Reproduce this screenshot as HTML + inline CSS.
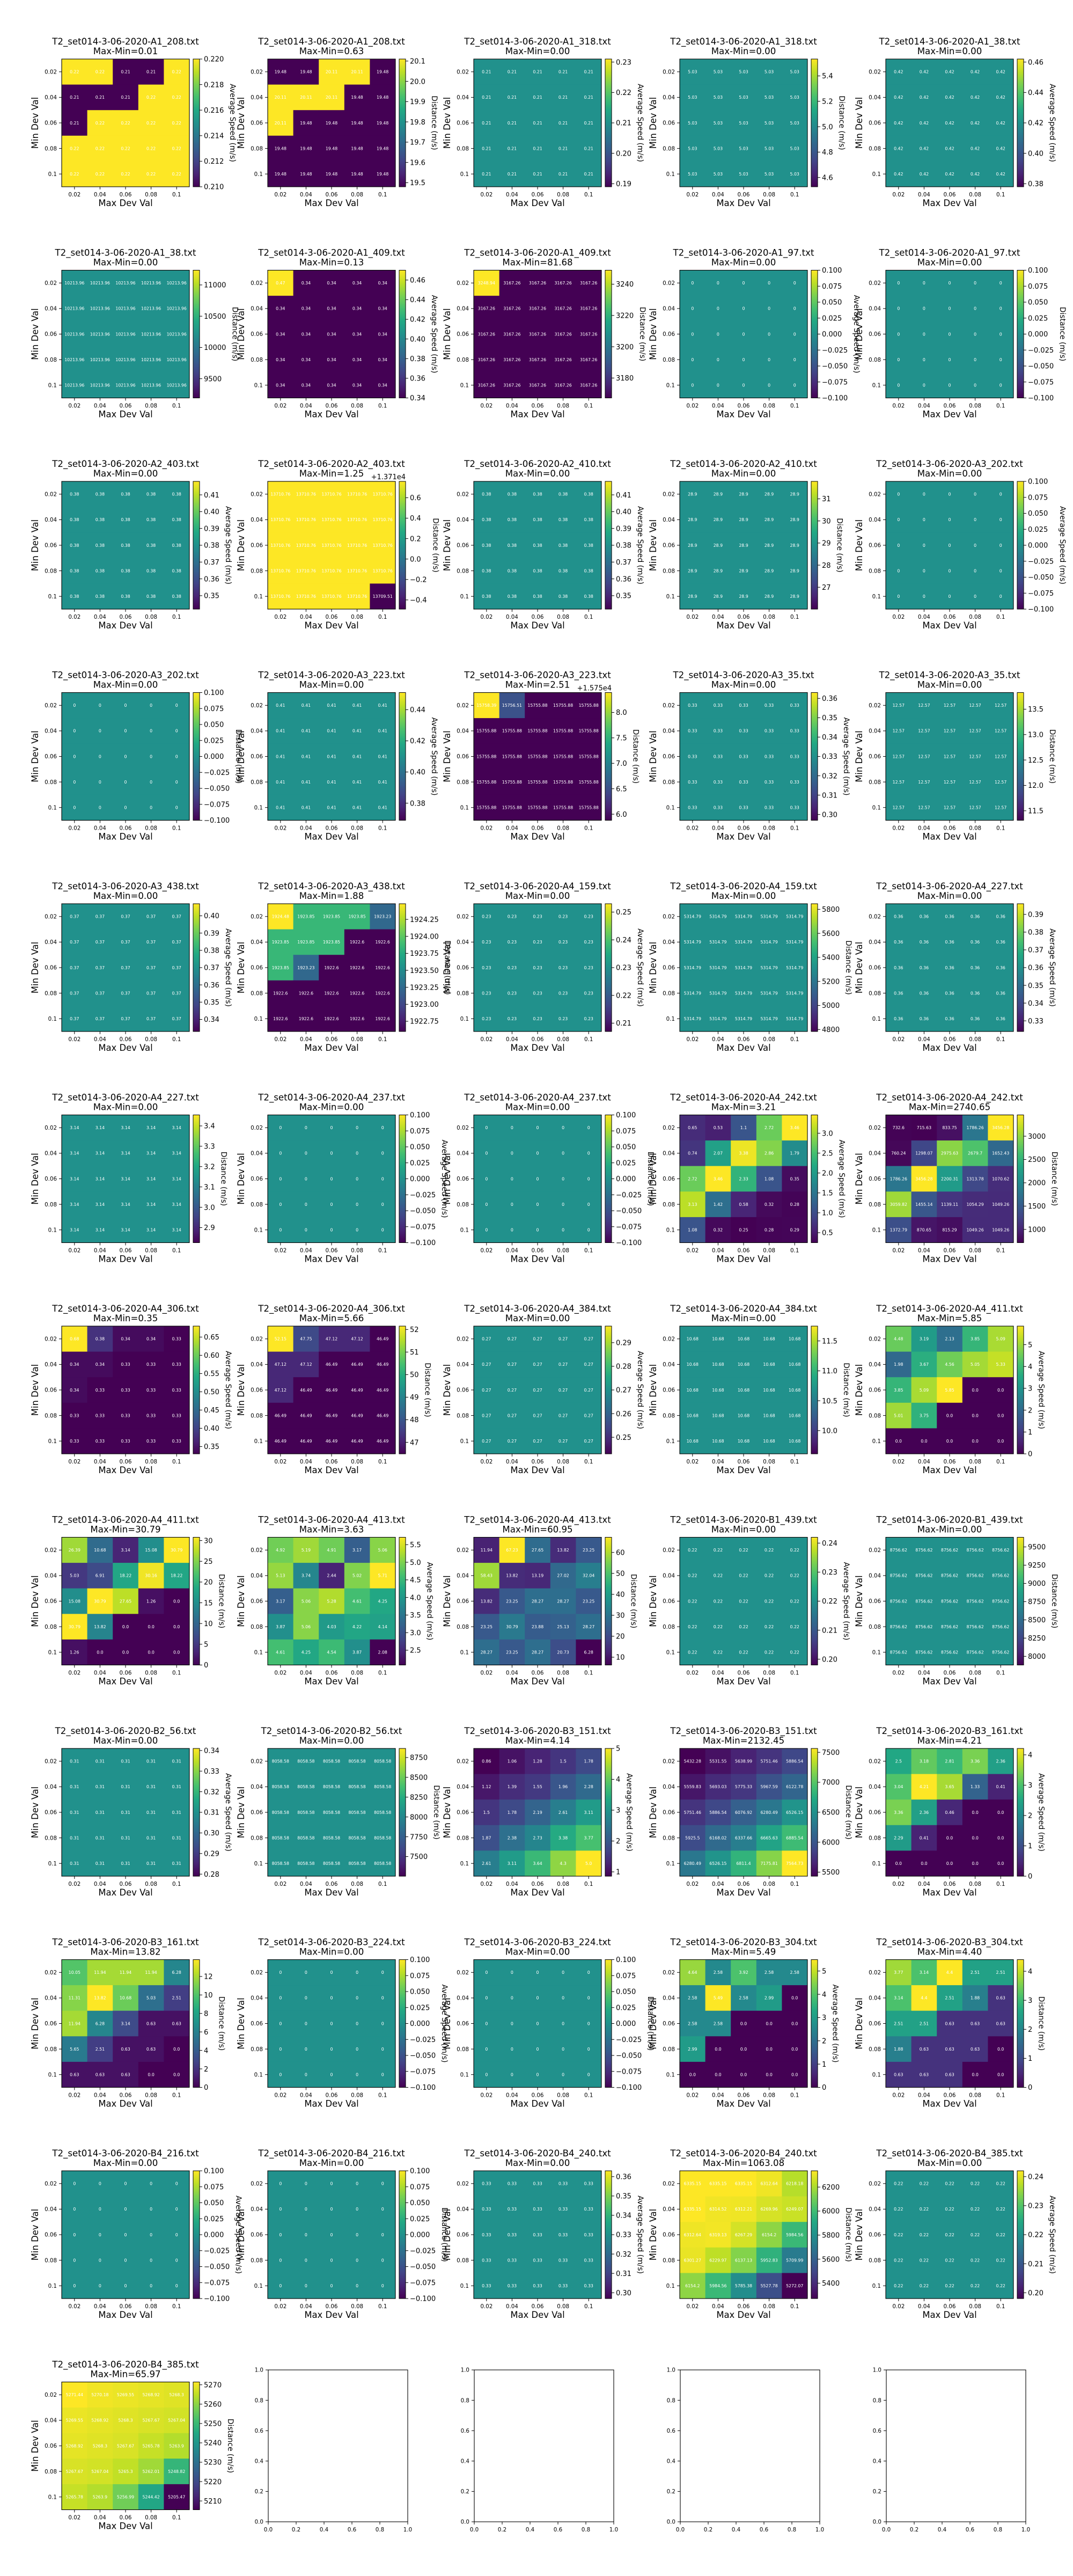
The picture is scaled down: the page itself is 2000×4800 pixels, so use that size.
<!DOCTYPE html>
<html><head><meta charset="utf-8"><title>Heatmap grid</title>
<style>
html,body{margin:0;padding:0;background:#fff;}
svg{display:block;font-family:"DejaVu Sans","Liberation Sans",sans-serif;}
</style></head>
<body>
<svg id="chart" xmlns="http://www.w3.org/2000/svg" width="2000" height="4800" viewBox="0 0 2000 4800">
<defs>
<linearGradient id="vir" x1="0" y1="1" x2="0" y2="0">
<stop offset="0" stop-color="#440154"/><stop offset="0.1" stop-color="#482475"/><stop offset="0.2" stop-color="#414487"/><stop offset="0.3" stop-color="#355f8d"/><stop offset="0.4" stop-color="#2a788e"/><stop offset="0.5" stop-color="#21918c"/><stop offset="0.6" stop-color="#22a884"/><stop offset="0.7" stop-color="#44bf70"/><stop offset="0.8" stop-color="#7ad151"/><stop offset="0.9" stop-color="#bddf26"/><stop offset="1" stop-color="#fde725"/>
</linearGradient>
</defs>
</svg>
<script>
const xCategories = ["0.02","0.04","0.06","0.08","0.1"];
const yCategories = ["0.02","0.04","0.06","0.08","0.1"];
const fileIds = ["A1_208","A1_208","A1_318","A1_318","A1_38","A1_38","A1_409","A1_409","A1_97","A1_97","A2_403","A2_403","A2_410","A2_410","A3_202","A3_202","A3_223","A3_223","A3_35","A3_35","A3_438","A3_438","A4_159","A4_159","A4_227","A4_227","A4_237","A4_237","A4_242","A4_242","A4_306","A4_306","A4_384","A4_384","A4_411","A4_411","A4_413","A4_413","B1_439","B1_439","B2_56","B2_56","B3_151","B3_151","B3_161","B3_161","B3_224","B3_224","B3_304","B3_304","B4_216","B4_216","B4_240","B4_240","B4_385","B4_385"];
const titles = fileIds.map(id => "T2_set014-3-06-2020-" + id + ".txt");
const maxMin = ["0.01","0.63","0.00","0.00","0.00","0.00","0.13","81.68","0.00","0.00","0.00","1.25","0.00","0.00","0.00","0.00","0.00","2.51","0.00","0.00","0.00","1.88","0.00","0.00","0.00","0.00","0.00","0.00","3.21","2740.65","0.35","5.66","0.00","0.00","5.85","30.79","3.63","60.95","0.00","0.00","0.00","0.00","4.14","2132.45","4.21","13.82","0.00","0.00","5.49","4.40","0.00","0.00","0.00","1063.08","0.00","65.97"];
const cbarLabels = ["Average Speed (m/s)","Distance (m/s)"];
const ZT = ["−0.100","−0.075","−0.050","−0.025","0.000","0.025","0.050","0.075","0.100"];
const cbarTicks = [
["0.210","0.212","0.214","0.216","0.218","0.220"],["19.5","19.6","19.7","19.8","19.9","20.0","20.1"],
["0.19","0.20","0.21","0.22","0.23"],["4.6","4.8","5.0","5.2","5.4"],
["0.38","0.40","0.42","0.44","0.46"],["9500","10000","10500","11000"],
["0.34","0.36","0.38","0.40","0.42","0.44","0.46"],["3180","3200","3220","3240"],
ZT,ZT,
["0.35","0.36","0.37","0.38","0.39","0.40","0.41"],["−0.4","−0.2","0.0","0.2","0.4","0.6"],
["0.35","0.36","0.37","0.38","0.39","0.40","0.41"],["27","28","29","30","31"],
ZT,ZT,
["0.38","0.40","0.42","0.44"],["6.0","6.5","7.0","7.5","8.0"],
["0.30","0.31","0.32","0.33","0.34","0.35","0.36"],["11.5","12.0","12.5","13.0","13.5"],
["0.34","0.35","0.36","0.37","0.38","0.39","0.40"],["1922.75","1923.00","1923.25","1923.50","1923.75","1924.00","1924.25"],
["0.21","0.22","0.23","0.24","0.25"],["4800","5000","5200","5400","5600","5800"],
["0.33","0.34","0.35","0.36","0.37","0.38","0.39"],["2.9","3.0","3.1","3.2","3.3","3.4"],
ZT,ZT,
["0.5","1.0","1.5","2.0","2.5","3.0"],["1000","1500","2000","2500","3000"],
["0.35","0.40","0.45","0.50","0.55","0.60","0.65"],["47","48","49","50","51","52"],
["0.25","0.26","0.27","0.28","0.29"],["10.0","10.5","11.0","11.5"],
["0","1","2","3","4","5"],["0","5","10","15","20","25","30"],
["2.5","3.0","3.5","4.0","4.5","5.0","5.5"],["10","20","30","40","50","60"],
["0.20","0.21","0.22","0.23","0.24"],["8000","8250","8500","8750","9000","9250","9500"],
["0.28","0.29","0.30","0.31","0.32","0.33","0.34"],["7500","7750","8000","8250","8500","8750"],
["1","2","3","4","5"],["5500","6000","6500","7000","7500"],
["0","1","2","3","4"],["0","2","4","6","8","10","12"],
ZT,ZT,
["0","1","2","3","4","5"],["0","1","2","3","4"],
ZT,ZT,
["0.30","0.31","0.32","0.33","0.34","0.35","0.36"],["5400","5600","5800","6000","6200"],
["0.20","0.21","0.22","0.23","0.24"],["5210","5220","5230","5240","5250","5260","5270"]
];
const cbarOffsets = {11:[13710,"+1.371e4"],17:[15750,"+1.575e4"]};
const values = [
[[0.22,0.22,0.21,0.21,0.22],[0.21,0.21,0.21,0.22,0.22],[0.21,0.22,0.22,0.22,0.22],[0.22,0.22,0.22,0.22,0.22],[0.22,0.22,0.22,0.22,0.22]],
[[19.48,19.48,20.11,20.11,19.48],[20.11,20.11,20.11,19.48,19.48],[20.11,19.48,19.48,19.48,19.48],[19.48,19.48,19.48,19.48,19.48],[19.48,19.48,19.48,19.48,19.48]],
[[0.21,0.21,0.21,0.21,0.21],[0.21,0.21,0.21,0.21,0.21],[0.21,0.21,0.21,0.21,0.21],[0.21,0.21,0.21,0.21,0.21],[0.21,0.21,0.21,0.21,0.21]],
[[5.03,5.03,5.03,5.03,5.03],[5.03,5.03,5.03,5.03,5.03],[5.03,5.03,5.03,5.03,5.03],[5.03,5.03,5.03,5.03,5.03],[5.03,5.03,5.03,5.03,5.03]],
[[0.42,0.42,0.42,0.42,0.42],[0.42,0.42,0.42,0.42,0.42],[0.42,0.42,0.42,0.42,0.42],[0.42,0.42,0.42,0.42,0.42],[0.42,0.42,0.42,0.42,0.42]],
[[10213.96,10213.96,10213.96,10213.96,10213.96],[10213.96,10213.96,10213.96,10213.96,10213.96],[10213.96,10213.96,10213.96,10213.96,10213.96],[10213.96,10213.96,10213.96,10213.96,10213.96],[10213.96,10213.96,10213.96,10213.96,10213.96]],
[[0.47,0.34,0.34,0.34,0.34],[0.34,0.34,0.34,0.34,0.34],[0.34,0.34,0.34,0.34,0.34],[0.34,0.34,0.34,0.34,0.34],[0.34,0.34,0.34,0.34,0.34]],
[[3248.94,3167.26,3167.26,3167.26,3167.26],[3167.26,3167.26,3167.26,3167.26,3167.26],[3167.26,3167.26,3167.26,3167.26,3167.26],[3167.26,3167.26,3167.26,3167.26,3167.26],[3167.26,3167.26,3167.26,3167.26,3167.26]],
[[0,0,0,0,0],[0,0,0,0,0],[0,0,0,0,0],[0,0,0,0,0],[0,0,0,0,0]],
[[0,0,0,0,0],[0,0,0,0,0],[0,0,0,0,0],[0,0,0,0,0],[0,0,0,0,0]],
[[0.38,0.38,0.38,0.38,0.38],[0.38,0.38,0.38,0.38,0.38],[0.38,0.38,0.38,0.38,0.38],[0.38,0.38,0.38,0.38,0.38],[0.38,0.38,0.38,0.38,0.38]],
[[13710.76,13710.76,13710.76,13710.76,13710.76],[13710.76,13710.76,13710.76,13710.76,13710.76],[13710.76,13710.76,13710.76,13710.76,13710.76],[13710.76,13710.76,13710.76,13710.76,13710.76],[13710.76,13710.76,13710.76,13710.76,13709.51]],
[[0.38,0.38,0.38,0.38,0.38],[0.38,0.38,0.38,0.38,0.38],[0.38,0.38,0.38,0.38,0.38],[0.38,0.38,0.38,0.38,0.38],[0.38,0.38,0.38,0.38,0.38]],
[[28.9,28.9,28.9,28.9,28.9],[28.9,28.9,28.9,28.9,28.9],[28.9,28.9,28.9,28.9,28.9],[28.9,28.9,28.9,28.9,28.9],[28.9,28.9,28.9,28.9,28.9]],
[[0,0,0,0,0],[0,0,0,0,0],[0,0,0,0,0],[0,0,0,0,0],[0,0,0,0,0]],
[[0,0,0,0,0],[0,0,0,0,0],[0,0,0,0,0],[0,0,0,0,0],[0,0,0,0,0]],
[[0.41,0.41,0.41,0.41,0.41],[0.41,0.41,0.41,0.41,0.41],[0.41,0.41,0.41,0.41,0.41],[0.41,0.41,0.41,0.41,0.41],[0.41,0.41,0.41,0.41,0.41]],
[[15758.39,15756.51,15755.88,15755.88,15755.88],[15755.88,15755.88,15755.88,15755.88,15755.88],[15755.88,15755.88,15755.88,15755.88,15755.88],[15755.88,15755.88,15755.88,15755.88,15755.88],[15755.88,15755.88,15755.88,15755.88,15755.88]],
[[0.33,0.33,0.33,0.33,0.33],[0.33,0.33,0.33,0.33,0.33],[0.33,0.33,0.33,0.33,0.33],[0.33,0.33,0.33,0.33,0.33],[0.33,0.33,0.33,0.33,0.33]],
[[12.57,12.57,12.57,12.57,12.57],[12.57,12.57,12.57,12.57,12.57],[12.57,12.57,12.57,12.57,12.57],[12.57,12.57,12.57,12.57,12.57],[12.57,12.57,12.57,12.57,12.57]],
[[0.37,0.37,0.37,0.37,0.37],[0.37,0.37,0.37,0.37,0.37],[0.37,0.37,0.37,0.37,0.37],[0.37,0.37,0.37,0.37,0.37],[0.37,0.37,0.37,0.37,0.37]],
[[1924.48,1923.85,1923.85,1923.85,1923.23],[1923.85,1923.85,1923.85,1922.6,1922.6],[1923.85,1923.23,1922.6,1922.6,1922.6],[1922.6,1922.6,1922.6,1922.6,1922.6],[1922.6,1922.6,1922.6,1922.6,1922.6]],
[[0.23,0.23,0.23,0.23,0.23],[0.23,0.23,0.23,0.23,0.23],[0.23,0.23,0.23,0.23,0.23],[0.23,0.23,0.23,0.23,0.23],[0.23,0.23,0.23,0.23,0.23]],
[[5314.79,5314.79,5314.79,5314.79,5314.79],[5314.79,5314.79,5314.79,5314.79,5314.79],[5314.79,5314.79,5314.79,5314.79,5314.79],[5314.79,5314.79,5314.79,5314.79,5314.79],[5314.79,5314.79,5314.79,5314.79,5314.79]],
[[0.36,0.36,0.36,0.36,0.36],[0.36,0.36,0.36,0.36,0.36],[0.36,0.36,0.36,0.36,0.36],[0.36,0.36,0.36,0.36,0.36],[0.36,0.36,0.36,0.36,0.36]],
[[3.14,3.14,3.14,3.14,3.14],[3.14,3.14,3.14,3.14,3.14],[3.14,3.14,3.14,3.14,3.14],[3.14,3.14,3.14,3.14,3.14],[3.14,3.14,3.14,3.14,3.14]],
[[0,0,0,0,0],[0,0,0,0,0],[0,0,0,0,0],[0,0,0,0,0],[0,0,0,0,0]],
[[0,0,0,0,0],[0,0,0,0,0],[0,0,0,0,0],[0,0,0,0,0],[0,0,0,0,0]],
[[0.65,0.53,1.1,2.72,3.46],[0.74,2.07,3.38,2.86,1.79],[2.72,3.46,2.33,1.08,0.35],[3.13,1.42,0.58,0.32,0.28],[1.08,0.32,0.25,0.28,0.29]],
[[732.6,715.63,833.75,1786.26,3456.28],[760.24,1298.07,2975.63,2679.7,1652.43],[1786.26,3456.28,2200.31,1313.78,1070.62],[3059.82,1455.14,1139.11,1054.29,1049.26],[1372.79,870.65,815.29,1049.26,1049.26]],
[[0.68,0.38,0.34,0.34,0.33],[0.34,0.34,0.33,0.33,0.33],[0.34,0.33,0.33,0.33,0.33],[0.33,0.33,0.33,0.33,0.33],[0.33,0.33,0.33,0.33,0.33]],
[[52.15,47.75,47.12,47.12,46.49],[47.12,47.12,46.49,46.49,46.49],[47.12,46.49,46.49,46.49,46.49],[46.49,46.49,46.49,46.49,46.49],[46.49,46.49,46.49,46.49,46.49]],
[[0.27,0.27,0.27,0.27,0.27],[0.27,0.27,0.27,0.27,0.27],[0.27,0.27,0.27,0.27,0.27],[0.27,0.27,0.27,0.27,0.27],[0.27,0.27,0.27,0.27,0.27]],
[[10.68,10.68,10.68,10.68,10.68],[10.68,10.68,10.68,10.68,10.68],[10.68,10.68,10.68,10.68,10.68],[10.68,10.68,10.68,10.68,10.68],[10.68,10.68,10.68,10.68,10.68]],
[[4.48,3.19,2.13,3.85,5.09],[1.98,3.67,4.56,5.05,5.33],[3.85,5.09,5.85,0,0],[5.01,3.75,0,0,0],[0,0,0,0,0]],
[[26.39,10.68,3.14,15.08,30.79],[5.03,6.91,18.22,30.16,18.22],[15.08,30.79,27.65,1.26,0],[30.79,13.82,0,0,0],[1.26,0,0,0,0]],
[[4.92,5.19,4.91,3.17,5.06],[5.13,3.74,2.44,5.02,5.71],[3.17,5.06,5.28,4.61,4.25],[3.87,5.06,4.03,4.22,4.14],[4.61,4.25,4.54,3.87,2.08]],
[[11.94,67.23,27.65,13.82,23.25],[58.43,13.82,13.19,27.02,32.04],[13.82,23.25,28.27,28.27,23.25],[23.25,30.79,23.88,25.13,28.27],[28.27,23.25,28.27,20.73,6.28]],
[[0.22,0.22,0.22,0.22,0.22],[0.22,0.22,0.22,0.22,0.22],[0.22,0.22,0.22,0.22,0.22],[0.22,0.22,0.22,0.22,0.22],[0.22,0.22,0.22,0.22,0.22]],
[[8756.62,8756.62,8756.62,8756.62,8756.62],[8756.62,8756.62,8756.62,8756.62,8756.62],[8756.62,8756.62,8756.62,8756.62,8756.62],[8756.62,8756.62,8756.62,8756.62,8756.62],[8756.62,8756.62,8756.62,8756.62,8756.62]],
[[0.31,0.31,0.31,0.31,0.31],[0.31,0.31,0.31,0.31,0.31],[0.31,0.31,0.31,0.31,0.31],[0.31,0.31,0.31,0.31,0.31],[0.31,0.31,0.31,0.31,0.31]],
[[8058.58,8058.58,8058.58,8058.58,8058.58],[8058.58,8058.58,8058.58,8058.58,8058.58],[8058.58,8058.58,8058.58,8058.58,8058.58],[8058.58,8058.58,8058.58,8058.58,8058.58],[8058.58,8058.58,8058.58,8058.58,8058.58]],
[[0.86,1.06,1.28,1.5,1.78],[1.12,1.39,1.55,1.96,2.28],[1.5,1.78,2.19,2.61,3.11],[1.87,2.38,2.73,3.38,3.77],[2.61,3.11,3.64,4.3,5.0]],
[[5432.28,5531.55,5638.99,5751.46,5886.54],[5559.83,5693.03,5775.33,5967.59,6122.78],[5751.46,5886.54,6076.92,6280.49,6526.15],[5925.5,6168.02,6337.66,6665.63,6885.54],[6280.49,6526.15,6811.4,7175.81,7564.73]],
[[2.5,3.18,2.81,3.36,2.36],[3.04,4.21,3.65,1.33,0.41],[3.36,2.36,0.46,0,0],[2.29,0.41,0,0,0],[0,0,0,0,0]],
[[10.05,11.94,11.94,11.94,6.28],[11.31,13.82,10.68,5.03,2.51],[11.94,6.28,3.14,0.63,0.63],[5.65,2.51,0.63,0.63,0],[0.63,0.63,0.63,0,0]],
[[0,0,0,0,0],[0,0,0,0,0],[0,0,0,0,0],[0,0,0,0,0],[0,0,0,0,0]],
[[0,0,0,0,0],[0,0,0,0,0],[0,0,0,0,0],[0,0,0,0,0],[0,0,0,0,0]],
[[4.64,2.58,3.92,2.58,2.58],[2.58,5.49,2.58,2.99,0],[2.58,2.58,0,0,0],[2.99,0,0,0,0],[0,0,0,0,0]],
[[3.77,3.14,4.4,2.51,2.51],[3.14,4.4,2.51,1.88,0.63],[2.51,2.51,0.63,0.63,0.63],[1.88,0.63,0.63,0.63,0],[0.63,0.63,0.63,0,0]],
[[0,0,0,0,0],[0,0,0,0,0],[0,0,0,0,0],[0,0,0,0,0],[0,0,0,0,0]],
[[0,0,0,0,0],[0,0,0,0,0],[0,0,0,0,0],[0,0,0,0,0],[0,0,0,0,0]],
[[0.33,0.33,0.33,0.33,0.33],[0.33,0.33,0.33,0.33,0.33],[0.33,0.33,0.33,0.33,0.33],[0.33,0.33,0.33,0.33,0.33],[0.33,0.33,0.33,0.33,0.33]],
[[6335.15,6335.15,6335.15,6312.64,6218.18],[6335.15,6314.52,6312.21,6269.96,6249.07],[6312.64,6319.13,6267.29,6154.2,5984.56],[6301.27,6229.97,6137.13,5952.83,5709.99],[6154.2,5984.56,5785.38,5527.78,5272.07]],
[[0.22,0.22,0.22,0.22,0.22],[0.22,0.22,0.22,0.22,0.22],[0.22,0.22,0.22,0.22,0.22],[0.22,0.22,0.22,0.22,0.22],[0.22,0.22,0.22,0.22,0.22]],
[[5271.44,5270.18,5269.55,5268.92,5268.3],[5269.55,5268.92,5268.3,5267.67,5267.04],[5268.92,5268.3,5267.67,5265.78,5263.9],[5267.67,5267.04,5265.3,5262.01,5248.82],[5265.78,5263.9,5256.99,5244.42,5205.47]]
];
const emptyTicks = ["0.0","0.2","0.4","0.6","0.8","1.0"];

const NS = "http://www.w3.org/2000/svg";
const svg = document.getElementById("chart");
const VSTOPS = [[68,1,84],[72,36,117],[65,68,135],[53,95,141],[42,120,142],[33,145,140],[34,168,132],[68,191,112],[122,209,81],[189,223,38],[253,231,37]];
function viridis(t){
  t = Math.max(0, Math.min(1, t));
  const f = t * 10, i = Math.min(9, Math.floor(f)), u = f - i;
  const a = VSTOPS[i], b = VSTOPS[i+1];
  return "rgb(" + [0,1,2].map(k => Math.round(a[k] + (b[k]-a[k])*u)).join(",") + ")";
}
function mk(tag, parent){ const e = document.createElementNS(NS, tag); parent.appendChild(e); return e; }
function setA(e, o){ for (const k in o) e.setAttribute(k, o[k]); }
function txt(parent, s, x, y, size, anchor){
  const t = mk("text", parent);
  setA(t, {x: x, y: y, "font-size": size, "text-anchor": anchor || "middle", fill: "#000"});
  t.textContent = s;
  return t;
}
function fmt(v){ const r = Math.round(v*100)/100; return Number.isInteger(r) ? r.toFixed(1) : String(r); }
function textW(s, fs){ let w = 0; for (const ch of s) w += (ch === "." ? 0.318 : (ch === "−" ? 0.838 : 0.636)); return w * fs; }

const AW = 238, CW = AW / 5;
const colX = c => 115 + c * 384;
const rowY = r => 110 + r * 393.5;

for (let p = 0; p < values.length; p++) {
  const r = Math.floor(p / 5), c = p % 5;
  const x0 = colX(c), y0 = rowY(r);
  const g = mk("g", svg);
  
  
  const grid = values[p];
  const flat = grid.flat();
  const mn = Math.min(...flat), mx = Math.max(...flat);
  let vmin = mn, vmax = mx;
  if (mn === mx) { if (mn === 0) { vmin = -0.1; vmax = 0.1; } else { vmin = mn * 0.9; vmax = mn * 1.1; } }
  const allZero = flat.every(v => v === 0);
  const xScale = j => x0 + j * CW;
  const yScale = i => y0 + i * CW;
  const cScale = v => y0 + AW - (v - vmin) / (vmax - vmin) * AW;
  // cells
  for (let i = 0; i < 5; i++) for (let j = 0; j < 5; j++) {
    const v = grid[i][j];
    const rc = mk("rect", g);
    
    
    setA(rc, {x: xScale(j), y: yScale(i), width: CW + 0.4, height: CW + 0.4, fill: viridis((v - vmin) / (vmax - vmin))});
  }
  for (let i = 0; i < 5; i++) for (let j = 0; j < 5; j++) {
    const t = txt(g, allZero ? "0" : fmt(grid[i][j]), xScale(j) + CW/2, yScale(i) + CW/2 + 2.8, 7.8);
    t.setAttribute("fill", "#fff");
    
    
  }
  const fr = mk("rect", g);
  
  
  setA(fr, {x: x0, y: y0, width: AW, height: AW, fill: "none", stroke: "#000", "stroke-width": 1.1});
  // ticks
  for (let j = 0; j < 5; j++) {
    const cx = xScale(j) + CW/2;
    const l = mk("line", g);
    
    
    setA(l, {x1: cx, x2: cx, y1: y0 + AW, y2: y0 + AW + 5, stroke: "#000", "stroke-width": 1});
    const t = txt(g, xCategories[j], cx, y0 + AW + 18, 10.3);
    
    
  }
  for (let i = 0; i < 5; i++) {
    const cy = yScale(i) + CW/2;
    const l = mk("line", g);
    
    
    setA(l, {x1: x0 - 5, x2: x0, y1: cy, y2: cy, stroke: "#000", "stroke-width": 1});
    const t = txt(g, yCategories[i], x0 - 9, cy + 3.7, 10.3, "end");
    
    
  }
  const t1 = txt(g, titles[p], x0 + AW/2, y0 - 27, 16.6);
  
  
  const t2 = txt(g, "Max-Min=" + maxMin[p], x0 + AW/2, y0 - 9, 16.6);
  
  
  const xl = txt(g, "Max Dev Val", x0 + AW/2, y0 + AW + 36, 16.4);
  
  
  const yl = txt(g, "Min Dev Val", 0, 0, 16.4);
  yl.setAttribute("transform", "translate(" + (x0 - 44) + "," + (y0 + AW/2) + ") rotate(-90)");
  
  
  // colorbar
  const cbx = x0 + AW + 7, cbR = cbx + 12;
  const cb = mk("rect", g);
  
  
  setA(cb, {x: cbx, y: y0, width: 12, height: AW, fill: "url(#vir)", stroke: "#000", "stroke-width": 1});
  const off = cbarOffsets[p] ? cbarOffsets[p][0] : 0;
  let maxW = 0;
  for (const lab of cbarTicks[p]) {
    const v = parseFloat(lab.replace("−", "-")) + off;
    const ty = cScale(v);
    const l = mk("line", g);
    
    
    setA(l, {x1: cbR, x2: cbR + 5, y1: ty, y2: ty, stroke: "#000", "stroke-width": 1});
    const t = txt(g, lab, cbR + 8, ty + 4.7, 13, "start");
    
    
    maxW = Math.max(maxW, textW(lab, 13));
  }
  const cl = txt(g, cbarLabels[p % 2], 0, 0, 13.9);
  cl.setAttribute("transform", "translate(" + (cbR + 10 + maxW + 10) + "," + (y0 + AW/2) + ") rotate(90)");
  
  
  if (cbarOffsets[p]) {
    const ot = txt(g, cbarOffsets[p][1], cbR, y0 - 4, 13, "end");
    
    
  }
}

// empty axes in last row
for (let c = 1; c < 5; c++) {
  const x0 = colX(c) + 1, y0 = 4416, W = 260, H = 283;
  const g = mk("g", svg);
  
  
  const fr = mk("rect", g);
  
  
  setA(fr, {x: x0, y: y0, width: W, height: H, fill: "none", stroke: "#000", "stroke-width": 1.1});
  emptyTicks.forEach((lab, k) => {
    const v = parseFloat(lab);
    const tx = x0 + v * W, ty = y0 + H - v * H;
    const lx = mk("line", g);
    
    
    setA(lx, {x1: tx, x2: tx, y1: y0 + H, y2: y0 + H + 5, stroke: "#000", "stroke-width": 1});
    const t = txt(g, lab, tx, y0 + H + 18, 10.3);
    
    
    const ly = mk("line", g);
    
    
    setA(ly, {x1: x0 - 5, x2: x0, y1: ty, y2: ty, stroke: "#000", "stroke-width": 1});
    const t2 = txt(g, lab, x0 - 9, ty + 3.7, 10.3, "end");
    
    
  });
}
</script>
</body></html>
